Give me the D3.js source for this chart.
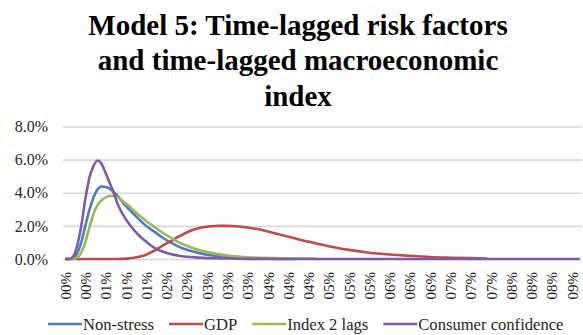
<!DOCTYPE html>
<html>
  <head>
    <script src="https://d3js.org/d3.v7.min.js"></script>
    <style>
      body { margin: 0; background: #fff; }
      text { font-family: "Liberation Serif", "Times New Roman", serif; fill: #262626; }
    </style>
  </head>
  <body>
  <svg width="583" height="335"></svg>
  <script>
    // category positions (index along the x axis) where each series was sampled
    var categoryIdx = [0,1,2,3,4,5,6,7,8,9,10,11,12,13,14,15,16,17,18,19,20,22,24,26,28,30,32,34,36,38,40,42,45,48,51,54,57,60,62,65,70,75,80,85,90,95,100,104,110,115,120,127];

    var nonStress = [0,0,0.05,0.35,1.0,2.0,2.95,3.7,4.2,4.38,4.35,4.25,4.05,3.8,3.5,3.2,2.95,2.7,2.45,2.22,2.0,
      1.65,1.3,1.0,0.75,0.56,0.42,0.31,0.23,0.17,0.12,0.09,0.06,0.04,0.02,0.01,0.01,null,null,
      null,null,null,null,null,null,null,null,null,null,null,null,null];
    var gdp = [0,0,0,0,0,0,0,0,0,0,0,0,0,0,0.01,0.02,0.05,0.08,0.12,0.18,0.26,
      0.5,0.8,1.07,1.35,1.6,1.8,1.92,1.98,2.0,2.0,1.98,1.9,1.78,1.6,1.42,1.22,1.05,0.94,
      0.77,0.55,0.38,0.27,0.19,0.12,0.08,0.05,0.03,null,null,null,null];
    var index2Lags = [0,0,0,0.08,0.4,1.0,1.9,2.7,3.25,3.55,3.72,3.8,3.8,3.72,3.55,3.35,3.15,2.92,2.7,2.5,2.3,
      1.95,1.6,1.3,1.02,0.8,0.62,0.48,0.37,0.28,0.21,0.16,0.11,0.08,0.06,0.04,0.03,0.02,0.02,
      null,null,null,null,null,null,null,null,null,null,null,null,null];
    var consumerConfidence = [0,0,0.15,0.8,2.0,3.6,4.9,5.6,5.95,5.75,5.2,4.6,4.0,3.3,2.8,2.4,2.05,1.75,1.48,1.25,1.05,
      0.68,0.45,0.3,0.2,0.14,0.1,0.07,0.05,0.04,0.03,0.02,0.01,0.01,0,0,0,0,0,
      0,0,0,0,0,0,0,0,0,0,0,0,0];

    var seriesNames = ["Non-stress", "GDP", "Index 2 lags", "Consumer confidence"];
    var seriesColors = ["#4a7ebb", "#be4b48", "#98b954", "#7d5aae"];
    var seriesValues = [nonStress, gdp, index2Lags, consumerConfidence];

    var xTickIdx = d3.range(0, 126, 5);
    var xTickLabels = ["00%","00%","01%","01%","01%","02%","02%","03%","03%","03%","04%","04%","04%",
      "05%","05%","05%","06%","06%","06%","07%","07%","07%","08%","08%","08%","09%"];
    var yTicks = [0, 2, 4, 6, 8];

    var svg = d3.select("svg");
    var plotLeft = 63, plotRight = 582, plotTop = 126.5, plotBottom = 259;

    var x = d3.scaleLinear().domain([-0.5, 127.5]).range([plotLeft, plotRight]);
    var y = d3.scaleLinear().domain([0, 8]).range([plotBottom, plotTop]);

    // title
    var title = svg.append("text")
      .attr("text-anchor", "middle")
      .attr("font-size", "29px")
      .attr("font-weight", "bold")
      .style("fill", "#000");
    ["Model 5: Time-lagged risk factors", "and time-lagged macroeconomic", "index"].forEach(function(t, i) {
      title.append("tspan").attr("x", 298).attr("y", 34.5 + i * 35.5).text(t);
    });

    // y axis with gridlines
    var yAxis = svg.append("g")
      .attr("transform", "translate(" + plotLeft + ",0)")
      .call(d3.axisLeft(y).tickValues(yTicks).tickSize(-(plotRight - plotLeft)).tickPadding(15)
        .tickFormat(function(d) { return d.toFixed(1) + "%"; }));
    yAxis.select(".domain").remove();
    yAxis.selectAll("line").attr("stroke", "#d9d9d9").attr("stroke-width", 1.6);
    yAxis.selectAll("text").attr("font-size", "16px").style("font-family", "Liberation Serif").style("fill", "#262626");

    // x axis labels, rotated
    var xAxis = svg.append("g")
      .attr("transform", "translate(0," + plotBottom + ")")
      .call(d3.axisBottom(x).tickValues(xTickIdx).tickSize(0)
        .tickFormat(function(d, i) { return xTickLabels[i]; }));
    xAxis.select(".domain").remove();
    xAxis.selectAll("text")
      .attr("font-size", "15px")
      .style("font-family", "Liberation Serif").style("fill", "#262626")
      .attr("text-anchor", "end")
      .attr("transform", "rotate(-90)")
      .attr("x", -13)
      .attr("y", 0)
      .attr("dy", "0.35em");

    // lines
    var line = d3.line()
      .defined(function(d) { return d[1] != null; })
      .x(function(d) { return x(d[0]); })
      .y(function(d) { return y(d[1]); })
      .curve(d3.curveMonotoneX);

    seriesValues.forEach(function(vals, s) {
      var pts = categoryIdx.map(function(c, i) { return [c, vals[i]]; });
      svg.append("path")
        .datum(pts)
        .attr("fill", "none")
        .attr("stroke", seriesColors[s])
        .attr("stroke-width", 2.6)
        .attr("stroke-linejoin", "round")
        .attr("d", line);
    });

    // legend
    var lx = 48, ly = 324;
    seriesNames.forEach(function(name, i) {
      var g = svg.append("g");
      g.append("line")
        .attr("x1", lx).attr("x2", lx + 34)
        .attr("y1", ly).attr("y2", ly)
        .attr("stroke", seriesColors[i]).attr("stroke-width", 2.6);
      var t = g.append("text")
        .attr("x", lx + 35).attr("y", ly + 5.5)
        .attr("font-size", "16.6px")
        .text(name);
      lx += 35 + t.node().getComputedTextLength() + 15;
    });
  </script>
  </body>
</html>
